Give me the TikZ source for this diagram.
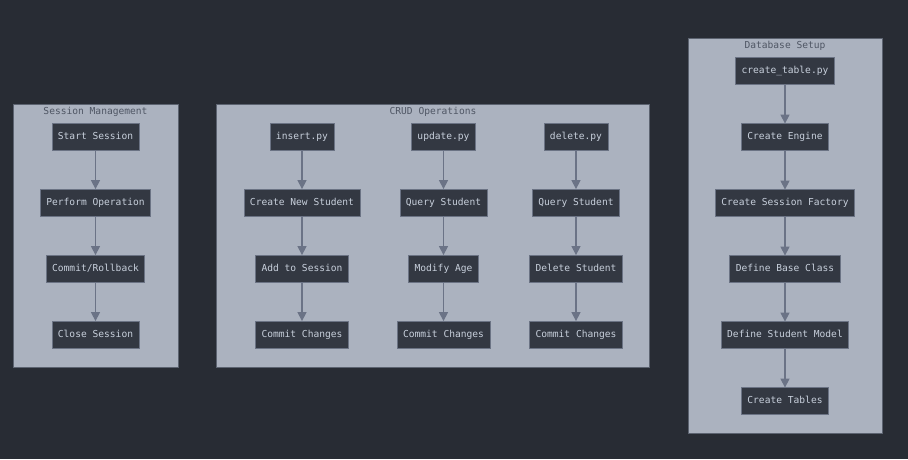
\documentclass[tikz,border=0pt]{standalone}
\usepackage{fontspec}
\setmonofont{DejaVu Sans Mono}
\usetikzlibrary{arrows.meta}
\definecolor{bgc}{HTML}{282C34}
\definecolor{clfill}{HTML}{ABB2BF}
\definecolor{clborder}{HTML}{5C6370}
\definecolor{ndfill}{HTML}{333842}
\definecolor{ndborder}{HTML}{6B7384}
\definecolor{ndtext}{HTML}{C8D0DC}
\definecolor{titletext}{HTML}{4F5664}
\definecolor{arrowc}{HTML}{6B7386}
\tikzset{
  x=1pt, y=-1pt,
  cluster/.style={draw=clborder, fill=clfill, line width=0.8pt},
  ctitle/.style={font=\ttfamily\fontsize{9.6}{11}\selectfont, text=titletext, inner sep=0pt, text height=7pt, text depth=2pt},
  box/.style={draw=ndborder, fill=ndfill, line width=0.8pt, minimum height=27pt, inner xsep=6pt, inner ysep=0pt, text height=7pt, text depth=2pt, font=\ttfamily\fontsize{9.6}{11}\selectfont, text=ndtext},
  flow/.style={draw=arrowc, line width=1.3pt, -{Triangle[length=9pt,width=9pt]}, shorten >=-0.5pt},
}
\begin{document}
\begin{tikzpicture}
\useasboundingbox (0,0) rectangle (908,459);
\fill[bgc] (0,0) rectangle (908,459);
% clusters
\draw[cluster] (13.5,104) rectangle (178,367);
\node[ctitle] (t1) at (95.5,111.5) {Session Management};
\draw[cluster] (216.5,104) rectangle (649.5,367);
\node[ctitle] (t2) at (433,111.5) {CRUD Operations};
\draw[cluster] (688,38.5) rectangle (882.5,433);
\node[ctitle] (t3) at (785,46) {Database Setup};
% session management
\node[box] (s1) at (95.5,136.5) {Start Session};
\node[box] (s2) at (95.5,202.5) {Perform Operation};
\node[box] (s3) at (95.5,268.5) {Commit/Rollback};
\node[box] (s4) at (95.5,334.5) {Close Session};
% CRUD
\node[box] (i1) at (302,136.5) {insert.py};
\node[box] (i2) at (302,202.5) {Create New Student};
\node[box] (i3) at (302,268.5) {Add to Session};
\node[box] (i4) at (302,334.5) {Commit Changes};
\node[box] (u1) at (443.5,136.5) {update.py};
\node[box] (u2) at (443.5,202.5) {Query Student};
\node[box] (u3) at (443.5,268.5) {Modify Age};
\node[box] (u4) at (443.5,334.5) {Commit Changes};
\node[box] (d1) at (576,136.5) {delete.py};
\node[box] (d2) at (576,202.5) {Query Student};
\node[box] (d3) at (576,268.5) {Delete Student};
\node[box] (d4) at (576,334.5) {Commit Changes};
% database
\node[box] (b1) at (785,71) {create\_table.py};
\node[box] (b2) at (785,137) {Create Engine};
\node[box] (b3) at (785,203) {Create Session Factory};
\node[box] (b4) at (785,269) {Define Base Class};
\node[box] (b5) at (785,335) {Define Student Model};
\node[box] (b6) at (785,401) {Create Tables};
% arrows
\draw[flow] (s1) -- (s2);
\draw[flow] (s2) -- (s3);
\draw[flow] (s3) -- (s4);
\draw[flow] (i1) -- (i2);
\draw[flow] (i2) -- (i3);
\draw[flow] (i3) -- (i4);
\draw[flow] (u1) -- (u2);
\draw[flow] (u2) -- (u3);
\draw[flow] (u3) -- (u4);
\draw[flow] (d1) -- (d2);
\draw[flow] (d2) -- (d3);
\draw[flow] (d3) -- (d4);
\draw[flow] (b1) -- (b2);
\draw[flow] (b2) -- (b3);
\draw[flow] (b3) -- (b4);
\draw[flow] (b4) -- (b5);
\draw[flow] (b5) -- (b6);
\end{tikzpicture}
\end{document}
